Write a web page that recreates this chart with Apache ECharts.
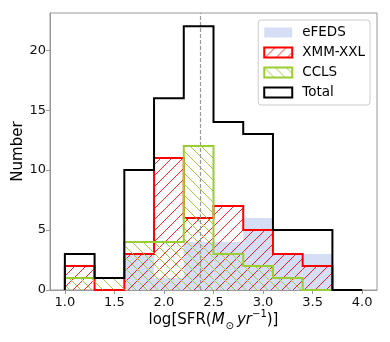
<!DOCTYPE html>
<html>
<head>
<meta charset="utf-8">
<script src="https://cdn.jsdelivr.net/npm/echarts@6/dist/echarts.min.js"></script>
<style>
  html, body { margin: 0; padding: 0; background: #fff; }
  #chart { width: 390px; height: 342px; }
</style>
</head>
<body>
<div id="chart"></div>
<script>
// histogram bins (log SFR) and counts per survey
const binEdges = [1.0, 1.3, 1.6, 1.9, 2.2, 2.5, 2.8, 3.1, 3.4, 3.7, 4.0]
const efedsCounts = [0, 0, 3, 1, 4, 4, 6, 3, 3, 0]
const xmmCounts = [2, 0, 3, 11, 6, 7, 5, 3, 2, 0]
const cclsCounts = [1, 1, 4, 4, 12, 3, 2, 1, 0, 0]
const totalCounts = [3, 1, 10, 16, 22, 14, 13, 5, 5, 0]
const xTicks = [1.0, 1.5, 2.0, 2.5, 3.0, 3.5, 4.0]
const yTicks = [0, 5, 10, 15, 20]
const medianSfr = 2.37

const FONT = 'DejaVu Sans'
const RED = '#ff0000'
const GREEN = '#9acd32'
const BLUE_FILL = '#d6def5'

// diagonal hatch tile, dir '/' or '\\'
function hatch(color, dir, size = 11, lw = 1) {
  const c = document.createElement('canvas')
  c.width = size
  c.height = size
  const ctx = c.getContext('2d')
  ctx.strokeStyle = color
  ctx.lineWidth = lw
  for (let k = -1; k <= 1; k++) {
    ctx.beginPath()
    if (dir === '/') {
      ctx.moveTo(k * size, size)
      ctx.lineTo(k * size + size, 0)
    } else {
      ctx.moveTo(k * size, 0)
      ctx.lineTo(k * size + size, size)
    }
    ctx.stroke()
  }
  return { image: c, repeat: 'repeat' }
}

const redHatch = hatch('rgba(255,0,0,0.85)', '/')
const greenHatch = hatch('rgba(154,205,50,0.95)', '\\')

function binRects(counts) {
  return counts.map((c, i) => [binEdges[i], binEdges[i + 1], c])
}

function stepPoints(counts) {
  const pts = [[binEdges[0], 0]]
  counts.forEach((c, i) => {
    pts.push([binEdges[i], c])
    pts.push([binEdges[i + 1], c])
  })
  pts.push([binEdges[binEdges.length - 1], 0])
  return pts
}

function rectItem(fill) {
  return function (params, api) {
    const p0 = api.coord([api.value(0), api.value(2)])
    const p1 = api.coord([api.value(1), 0])
    return {
      type: 'rect',
      shape: { x: p0[0], y: p0[1], width: p1[0] - p0[0], height: p1[1] - p0[1] },
      style: { fill: fill },
      silent: true
    }
  }
}

function filled(name, counts, fill, z) {
  return {
    name,
    type: 'custom',
    z,
    data: binRects(counts),
    encode: { x: [0, 1], y: 2 },
    renderItem: rectItem(fill)
  }
}

function outline(name, counts, color, z) {
  return {
    name,
    type: 'line',
    z,
    data: stepPoints(counts),
    symbol: 'none',
    silent: true,
    lineStyle: { color, width: 2, join: 'miter' }
  }
}

const chart = echarts.init(document.getElementById('chart'), null, { renderer: 'canvas' })

const option = {
  animation: false,
  backgroundColor: '#fff',
  textStyle: { fontFamily: FONT },
  grid: {
    left: 50, right: 13, top: 13, bottom: 52,
    show: true, borderColor: '#999', borderWidth: 1
  },
  legend: {
    orient: 'vertical',
    right: 20,
    top: 20,
    itemWidth: 28,
    itemHeight: 10,
    itemGap: 5,
    padding: [5, 5, 5, 5],
    borderColor: '#ccc',
    borderWidth: 1,
    borderRadius: 3,
    backgroundColor: 'rgba(255,255,255,0.8)',
    selectedMode: false,
    textStyle: { fontFamily: FONT, fontSize: 13.5, color: '#000', padding: [0, 0, 0, 5], lineHeight: 15 },
    data: [
      { name: 'eFEDS', icon: 'rect', itemStyle: { color: BLUE_FILL, borderWidth: 0 } },
      { name: 'XMM-XXL', icon: 'rect', itemStyle: { color: redHatch, borderColor: RED, borderWidth: 2 } },
      { name: 'CCLS', icon: 'rect', itemStyle: { color: greenHatch, borderColor: GREEN, borderWidth: 2 } },
      { name: 'Total', icon: 'rect', itemStyle: { color: '#fff', borderColor: '#000', borderWidth: 2 } }
    ]
  },
  xAxis: {
    type: 'value',
    min: 0.85,
    max: 4.15,
    name: '{n|log[SFR(}{i|M}{s|⊙}{i|yr}{sup|−1}{n|)]}',
    nameLocation: 'middle',
    nameGap: 19,
    nameMoveOverlap: false,
    nameTextStyle: {
      rich: {
        n: { fontFamily: FONT, fontSize: 15, color: '#000', lineHeight: 22 },
        i: { fontFamily: FONT, fontSize: 15, fontStyle: 'italic', color: '#000', lineHeight: 22 },
        s: { fontFamily: FONT, fontSize: 10, color: '#000', verticalAlign: 'bottom', lineHeight: 22, padding: [0, 3, 0, 1] },
        sup: { fontFamily: FONT, fontSize: 10, color: '#000', verticalAlign: 'top', lineHeight: 22 }
      }
    },
    axisLine: { lineStyle: { color: '#999', width: 1 } },
    axisTick: { length: 4, lineStyle: { color: '#999' }, customValues: xTicks },
    axisLabel: {
      customValues: xTicks,
      fontFamily: FONT, fontSize: 13, color: '#111', margin: 6,
      formatter: v => v.toFixed(1)
    },
    splitLine: { show: false }
  },
  yAxis: {
    type: 'value',
    min: 0,
    max: 23.1,
    name: 'Number',
    nameLocation: 'middle',
    nameGap: 24,
    nameMoveOverlap: false,
    nameTextStyle: { fontFamily: FONT, fontSize: 15, color: '#000' },
    axisLine: { show: true, lineStyle: { color: '#999', width: 1 } },
    axisTick: { show: true, length: 4, lineStyle: { color: '#999' }, customValues: yTicks },
    axisLabel: { customValues: yTicks, fontFamily: FONT, fontSize: 13, color: '#111', margin: 4 },
    splitLine: { show: false }
  },
  series: [
    filled('eFEDS', efedsCounts, BLUE_FILL, 1),
    filled('XMM-XXL', xmmCounts, redHatch, 2),
    outline('XMM-XXL edge', xmmCounts, RED, 3),
    filled('CCLS', cclsCounts, greenHatch, 4),
    outline('CCLS edge', cclsCounts, GREEN, 5),
    {
      ...outline('Total', totalCounts, '#000', 6),
      markLine: {
        silent: true,
        symbol: 'none',
        label: { show: false },
        lineStyle: { color: '#999', type: [4, 2], width: 1.2 },
        data: [{ xAxis: medianSfr }]
      }
    }
  ]
}

chart.setOption(option)
</script>
</body>
</html>
